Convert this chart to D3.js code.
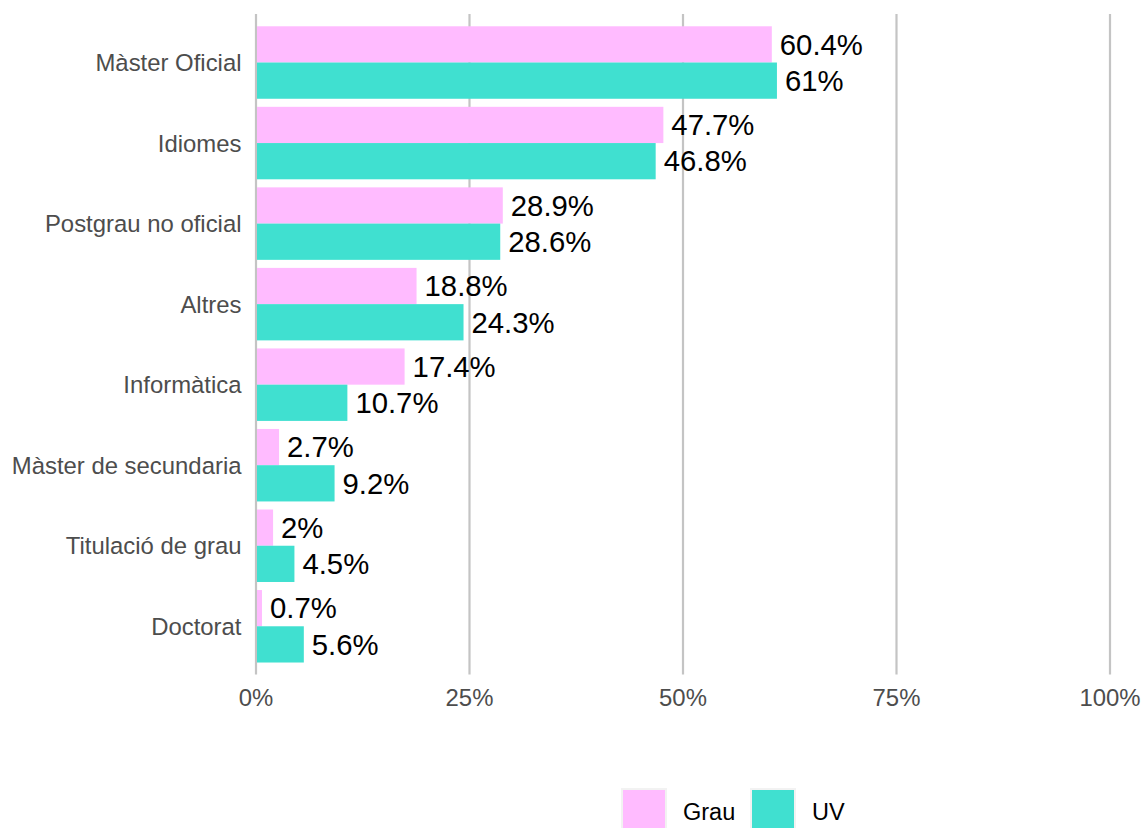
<!DOCTYPE html>
<html><head><meta charset="utf-8">
<script src="https://cdn.jsdelivr.net/npm/d3@7"></script>
<style>body{margin:0;background:#fff;} svg{display:block;font-family:"Liberation Sans",Arial,Helvetica,sans-serif;}</style>
</head><body>
<svg id="c" width="1144" height="828"></svg>
<script>
const categories = ["Màster Oficial","Idiomes","Postgrau no oficial","Altres","Informàtica","Màster de secundaria","Titulació de grau","Doctorat"];
const seriesNames = ["Grau","UV"];
const grau = [60.4, 47.7, 28.9, 18.8, 17.4, 2.7, 2, 0.7];
const uv = [61, 46.8, 28.6, 24.3, 10.7, 9.2, 4.5, 5.6];
const xTicks = [0, 25, 50, 75, 100];
const colors = {"Grau":"#FFBBFF","UV":"#40E0D0"};

const svg = d3.select("#c");
const x = d3.scaleLinear().domain([0,100]).range([256,1110]);
const y = d3.scaleBand().domain(categories).range([14.2,674.6]).paddingInner(0.1).paddingOuter(0.15);
const ySub = d3.scaleBand().domain(seriesNames).range([0,y.bandwidth()]);

// grid
svg.append("g").selectAll("line").data(xTicks).join("line")
  .attr("x1",d=>x(d)).attr("x2",d=>x(d)).attr("y1",14).attr("y2",674.6)
  .attr("stroke","#c4c4c4").attr("stroke-width",2.2);

const data = [];
categories.forEach((c,i)=>{
  data.push({cat:c,s:"Grau",v:grau[i]});
  data.push({cat:c,s:"UV",v:uv[i]});
});

svg.append("g").selectAll("rect").data(data).join("rect")
  .attr("x",x(0)+1).attr("y",d=>y(d.cat)+ySub(d.s))
  .attr("width",d=>x(d.v)-x(0)-1).attr("height",ySub.bandwidth())
  .attr("fill",d=>colors[d.s]);

svg.append("g").selectAll("text").data(data).join("text")
  .attr("x",d=>x(d.v)+8).attr("y",d=>y(d.cat)+ySub(d.s)+ySub.bandwidth()/2)
  .attr("dy","0.35em").attr("font-size",29.3).attr("fill","#000")
  .text(d=>d.v+"%");

// y axis labels
svg.append("g").selectAll("text").data(categories).join("text")
  .attr("x",241.5).attr("y",d=>y(d)+y.bandwidth()/2).attr("dy","0.36em")
  .attr("text-anchor","end").attr("font-size",23.9).attr("fill","#4d4d4d").text(d=>d);

// x axis labels
svg.append("g").selectAll("text").data(xTicks).join("text")
  .attr("x",d=>x(d)).attr("y",697).attr("dy","0.36em")
  .attr("text-anchor","middle").attr("font-size",23.9).attr("fill","#4d4d4d").text(d=>d+"%");

// legend
const leg = svg.append("g");
const legX = [622, 751];
seriesNames.forEach((s,i)=>{
  leg.append("rect").attr("x",legX[i]).attr("y",789).attr("width",44).attr("height",44)
    .attr("fill",colors[s]).attr("stroke","#f2f2f2").attr("stroke-width",2);
  leg.append("text").attr("x",legX[i]+61).attr("y",812).attr("dy","0.36em")
    .attr("font-size",23.5).attr("fill","#000").text(s);
});
</script>
</body></html>
